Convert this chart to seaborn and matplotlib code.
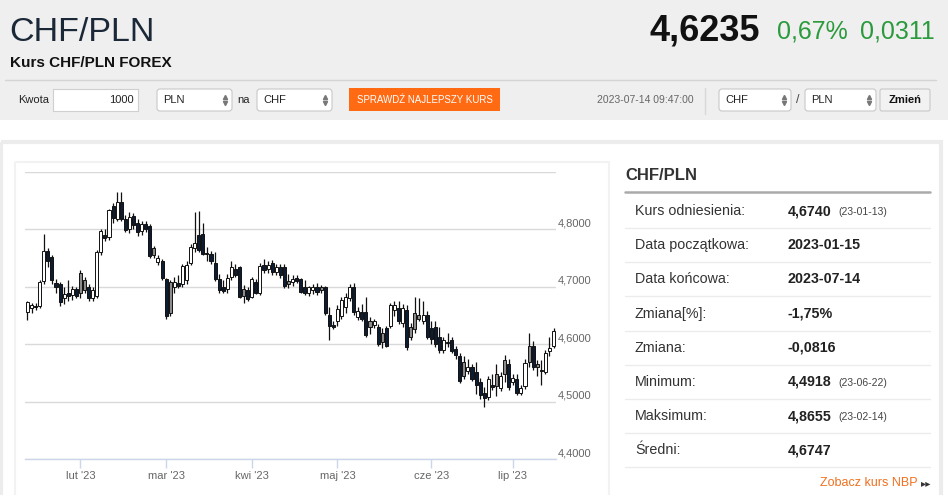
import numpy as np
import pandas as pd
import seaborn as sns
import matplotlib.pyplot as plt
from matplotlib.patches import Rectangle, FancyBboxPatch

# dane świec (O/H/L/C)
opens = [4.657, 4.664, 4.666, 4.667, 4.710, 4.762, 4.752, 4.706, 4.705, 4.680,
         4.690, 4.686, 4.697, 4.725, 4.712, 4.700, 4.680, 4.684, 4.760, 4.790,
         4.787, 4.840, 4.818, 4.848, 4.818, 4.800, 4.823, 4.812, 4.797, 4.810,
         4.806, 4.768, 4.744, 4.745, 4.713, 4.708, 4.700, 4.706, 4.705, 4.712,
         4.742, 4.768, 4.790, 4.792, 4.759, 4.757, 4.742, 4.713, 4.700, 4.696,
         4.718, 4.732, 4.734, 4.697, 4.694, 4.683, 4.708, 4.690, 4.739, 4.731,
         4.742, 4.726, 4.735, 4.734, 4.710, 4.708, 4.716, 4.713, 4.700, 4.690,
         4.694, 4.700, 4.700, 4.699, 4.652, 4.634, 4.640, 4.650, 4.665, 4.680,
         4.700, 4.648, 4.656, 4.657, 4.640, 4.634, 4.631, 4.620, 4.628, 4.632,
         4.660, 4.664, 4.638, 4.660, 4.630, 4.655, 4.652, 4.640, 4.652, 4.628,
         4.630, 4.612, 4.590, 4.605, 4.608, 4.592, 4.580, 4.570, 4.553, 4.560,
         4.552, 4.535, 4.515, 4.508, 4.530, 4.548, 4.524, 4.572, 4.565, 4.535,
         4.540, 4.516, 4.528, 4.598, 4.597, 4.565, 4.556, 4.552, 4.588, 4.598]
highs = [4.676, 4.672, 4.672, 4.712, 4.792, 4.768, 4.755, 4.714, 4.708, 4.700,
         4.712, 4.702, 4.700, 4.730, 4.718, 4.705, 4.700, 4.765, 4.800, 4.800,
         4.836, 4.846, 4.866, 4.8655, 4.825, 4.830, 4.828, 4.818, 4.814, 4.815,
         4.809, 4.772, 4.756, 4.748, 4.716, 4.712, 4.718, 4.720, 4.740, 4.745,
         4.775, 4.830, 4.832, 4.812, 4.770, 4.762, 4.760, 4.722, 4.712, 4.722,
         4.745, 4.740, 4.737, 4.704, 4.700, 4.718, 4.713, 4.742, 4.748, 4.745,
         4.746, 4.740, 4.740, 4.740, 4.722, 4.720, 4.720, 4.716, 4.712, 4.702,
         4.705, 4.706, 4.704, 4.702, 4.665, 4.640, 4.668, 4.683, 4.690, 4.705,
         4.706, 4.665, 4.670, 4.682, 4.648, 4.644, 4.636, 4.628, 4.632, 4.672,
         4.675, 4.676, 4.670, 4.668, 4.638, 4.682, 4.680, 4.676, 4.658, 4.640,
         4.640, 4.630, 4.612, 4.620, 4.612, 4.598, 4.585, 4.580, 4.575, 4.565,
         4.570, 4.542, 4.526, 4.545, 4.548, 4.565, 4.552, 4.582, 4.575, 4.548,
         4.548, 4.530, 4.575, 4.620, 4.606, 4.572, 4.572, 4.590, 4.612, 4.628]
lows = [4.643, 4.655, 4.660, 4.664, 4.705, 4.735, 4.705, 4.690, 4.667, 4.670,
        4.675, 4.678, 4.680, 4.680, 4.690, 4.676, 4.676, 4.680, 4.755, 4.780,
        4.782, 4.812, 4.815, 4.815, 4.795, 4.793, 4.800, 4.788, 4.790, 4.795,
        4.750, 4.750, 4.738, 4.712, 4.645, 4.650, 4.690, 4.698, 4.700, 4.705,
        4.738, 4.760, 4.760, 4.755, 4.745, 4.740, 4.710, 4.690, 4.690, 4.690,
        4.712, 4.718, 4.680, 4.672, 4.676, 4.680, 4.688, 4.686, 4.725, 4.725,
        4.720, 4.720, 4.715, 4.698, 4.698, 4.702, 4.706, 4.690, 4.686, 4.684,
        4.688, 4.686, 4.690, 4.652, 4.608, 4.626, 4.632, 4.645, 4.655, 4.675,
        4.652, 4.642, 4.640, 4.612, 4.618, 4.628, 4.597, 4.593, 4.595, 4.628,
        4.650, 4.636, 4.630, 4.590, 4.608, 4.620, 4.640, 4.636, 4.610, 4.600,
        4.596, 4.585, 4.585, 4.596, 4.585, 4.575, 4.533, 4.540, 4.548, 4.536,
        4.514, 4.505, 4.4918, 4.504, 4.520, 4.510, 4.518, 4.535, 4.520, 4.530,
        4.512, 4.512, 4.522, 4.560, 4.555, 4.545, 4.530, 4.548, 4.580, 4.594]
closes = [4.673, 4.668, 4.665, 4.708, 4.762, 4.745, 4.712, 4.700, 4.673, 4.688,
          4.684, 4.697, 4.685, 4.690, 4.695, 4.680, 4.695, 4.760, 4.797, 4.786,
          4.833, 4.820, 4.848, 4.818, 4.799, 4.822, 4.808, 4.795, 4.810, 4.800,
          4.753, 4.756, 4.750, 4.715, 4.649, 4.655, 4.708, 4.702, 4.736, 4.738,
          4.770, 4.776, 4.765, 4.758, 4.757, 4.745, 4.713, 4.695, 4.693, 4.716,
          4.734, 4.720, 4.683, 4.685, 4.679, 4.713, 4.690, 4.736, 4.730, 4.739,
          4.726, 4.735, 4.720, 4.702, 4.705, 4.714, 4.710, 4.692, 4.690, 4.699,
          4.700, 4.692, 4.694, 4.655, 4.632, 4.630, 4.662, 4.678, 4.682, 4.700,
          4.657, 4.658, 4.645, 4.617, 4.631, 4.640, 4.600, 4.605, 4.598, 4.668,
          4.668, 4.640, 4.664, 4.595, 4.613, 4.627, 4.644, 4.652, 4.613, 4.610,
          4.600, 4.590, 4.608, 4.602, 4.588, 4.582, 4.536, 4.545, 4.560, 4.540,
          4.530, 4.512, 4.506, 4.540, 4.525, 4.528, 4.545, 4.548, 4.525, 4.542,
          4.515, 4.524, 4.568, 4.570, 4.560, 4.560, 4.553, 4.585, 4.594, 4.6235]

month_labels = ["lut '23", "mar '23", "kwi '23", "maj '23", "cze '23", "lip '23"]
month_start_idx = [13, 34, 55, 76, 99, 119]
y_ticks = [4.4, 4.5, 4.6, 4.7, 4.8]

stat_labels = ["Kurs odniesienia:", "Data początkowa:", "Data końcowa:", "Zmiana[%]:",
               "Zmiana:", "Minimum:", "Maksimum:", "Średni:"]
stat_values = ["4,6740", "2023-01-15", "2023-07-14", "-1,75%", "-0,0816",
               "4,4918", "4,8655", "4,6747"]
stat_dates = ["(23-01-13)", "", "", "", "", "(23-06-22)", "(23-02-14)", ""]

last_rate = "4,6235"
change_pct = "0,67%"
change_abs = "0,0311"
quote_time = "2023-07-14 09:47:00"

sns.set_theme(style="white")
plt.rcParams['font.family'] = ['Liberation Sans', 'DejaVu Sans']

W, H = 948, 495
fig = plt.figure(figsize=(W / 100, H / 100), dpi=100)
fig.patch.set_facecolor("white")

# warstwa strony w pikselach
pg = fig.add_axes([0, 0, 1, 1], zorder=0)
pg.set_xlim(0, W)
pg.set_ylim(H, 0)
pg.axis("off")


def box(x0, y0, x1, y1, fc, ec="none", lw=1, r=0):
    if r:
        p = FancyBboxPatch((x0, y0), x1 - x0, y1 - y0, boxstyle=f"round,pad=0,rounding_size={r}",
                           fc=fc, ec=ec, lw=lw)
    else:
        p = Rectangle((x0, y0), x1 - x0, y1 - y0, fc=fc, ec=ec, lw=lw)
    pg.add_patch(p)


# nagłówek
box(0, 0, W, 120, "#efefef")
pg.text(9, 41, "CHF/PLN", fontsize=24.5, color="#1b2838", va="baseline")
pg.text(760, 40, last_rate, fontsize=26, weight="bold", color="#111111",
        ha="right", va="baseline")
pg.text(848, 39, change_pct, fontsize=18, color="#2a9a3c", ha="right", va="baseline")
pg.text(935, 39, change_abs, fontsize=18, color="#2a9a3c", ha="right", va="baseline")
pg.text(10, 63, "Kurs CHF/PLN FOREX", fontsize=11, weight="bold",
        color="#111111", va="center")
pg.plot([5, 936], [79.5, 79.5], color="#d4d4d4", lw=1)


def select(x0, x1, label):
    box(x0, 89, x1, 111, "white", "#c8c8c8", 0.8, r=3)
    pg.text(x0 + 6, 100, label, fontsize=8, color="#222222", va="center")
    pg.plot([x1 - 7], [97.3], marker="^", ms=3, color="#777777", lw=0)
    pg.plot([x1 - 7], [102.7], marker="v", ms=3, color="#777777", lw=0)


pg.text(18, 100, "Kwota", fontsize=8, color="#222222", va="center")
box(53, 89, 138, 111, "white", "#cfcfcf", 0.8)
pg.text(134, 100, "1000", fontsize=8, color="#222222", ha="right", va="center")
select(157, 232, "PLN")
pg.text(237, 100, "na", fontsize=8, color="#222222", va="center")
select(257, 332, "CHF")
box(349, 88, 500, 111, "#ff6a13")
pg.text(424.5, 100, "SPRAWDŹ NAJLEPSZY KURS", fontsize=7, color="white",
        ha="center", va="center")
pg.text(597, 100, quote_time, fontsize=7.5, color="#666666", va="center")
pg.plot([705, 705], [88, 114], color="#d8d8d8", lw=1)
select(719, 791, "CHF")
pg.text(797.5, 100, "/", fontsize=9, color="#444444", ha="center", va="center")
select(805, 876, "PLN")
box(880, 89, 930, 111, "#f2f2f2", "#c8c8c8", 0.8, r=2)
pg.text(905, 100, "Zmień", fontsize=8, weight="bold", color="#111111",
        ha="center", va="center")

# ramki karty i wykresu
box(1.5, 141.5, 941.5, 520, "none", "#ececec", 3)
box(15, 162, 609, 520, "none", "#f2f2f2", 1.5)

# panel statystyk
pg.text(625, 175, "CHF/PLN", fontsize=12, weight="bold", color="#333333", va="center")
pg.plot([625, 930], [192, 192], color="#aaaaaa", lw=1.8)
for k, (lab, val, dt) in enumerate(zip(stat_labels, stat_values, stat_dates)):
    yc = 211 + 34.2 * k
    pg.text(635, yc, lab, fontsize=10.3, color="#333333", va="center")
    pg.text(788, yc, val, fontsize=10.3, weight="bold", color="#222222", va="center")
    if dt:
        pg.text(838, yc + 1, dt, fontsize=7.5, color="#444444", va="center")
    pg.plot([625, 930], [yc + 17, yc + 17], color="#ececec", lw=1)
pg.text(918, 483, "Zobacz kurs NBP", fontsize=9, color="#f07020", ha="right", va="center")
pg.text(931, 483.5, "▸▸", family=['DejaVu Sans'], fontsize=7.5, color="#333333",
        ha="right", va="center")

# wykres świecowy
df = pd.DataFrame({"open": opens, "high": highs, "low": lows, "close": closes})
df["idx"] = np.arange(len(df))
prev = df["close"].shift(1).fillna(df["open"])
df["kind"] = np.where(df["close"] >= df["open"], "up",
                      np.where(df["close"] < prev, "down", "weak"))
fill = {"up": "white", "down": "#0e1c33", "weak": "#8c8c8c"}

ax = fig.add_axes([25 / W, (H - 459.3) / H, (556 - 25) / W, (459.3 - 172) / H], zorder=2)
ax.set_facecolor("none")
ax.vlines(df["idx"], df["low"], df["high"], color="#111111", lw=0.9, zorder=3)
body_lo = df[["open", "close"]].min(axis=1)
body_h = (df["open"] - df["close"]).abs().clip(lower=0.0012)
ax.bar(df["idx"], body_h, bottom=body_lo, width=0.75,
       color=[fill[k] for k in df["kind"]], edgecolor="#111111", linewidth=0.7, zorder=4)

ax.set_xlim(-0.6, len(df) - 0.4)
ax.set_ylim(4.4, 4.9)
ax.set_yticks([4.4, 4.5, 4.6, 4.7, 4.8, 4.9])
ax.yaxis.grid(True, color="#d9d9d9", lw=1)
ax.xaxis.grid(False)
ax.tick_params(axis="y", length=0, labelleft=False)
for v in y_ticks:
    ax.annotate(f"{v:.4f}".replace(".", ","), xy=(1, v), xycoords=("axes fraction", "data"),
                xytext=(1.5, 4.5), textcoords="offset points", fontsize=8, color="#666666",
                va="center", ha="left", annotation_clip=False)
ax.set_xticks(month_start_idx)
ax.set_xticklabels(month_labels, fontsize=8, color="#666666")
ax.tick_params(axis="x", length=6.5, width=1, color="#ccd6eb", direction="out", pad=2,
               bottom=True)
sns.despine(ax=ax, left=True, right=True, top=True)
ax.spines["bottom"].set_color("#ccd6eb")
ax.spines["bottom"].set_linewidth(1)
ax.set_xlabel("")
ax.set_ylabel("")

fig.savefig("out.png", dpi=100)
